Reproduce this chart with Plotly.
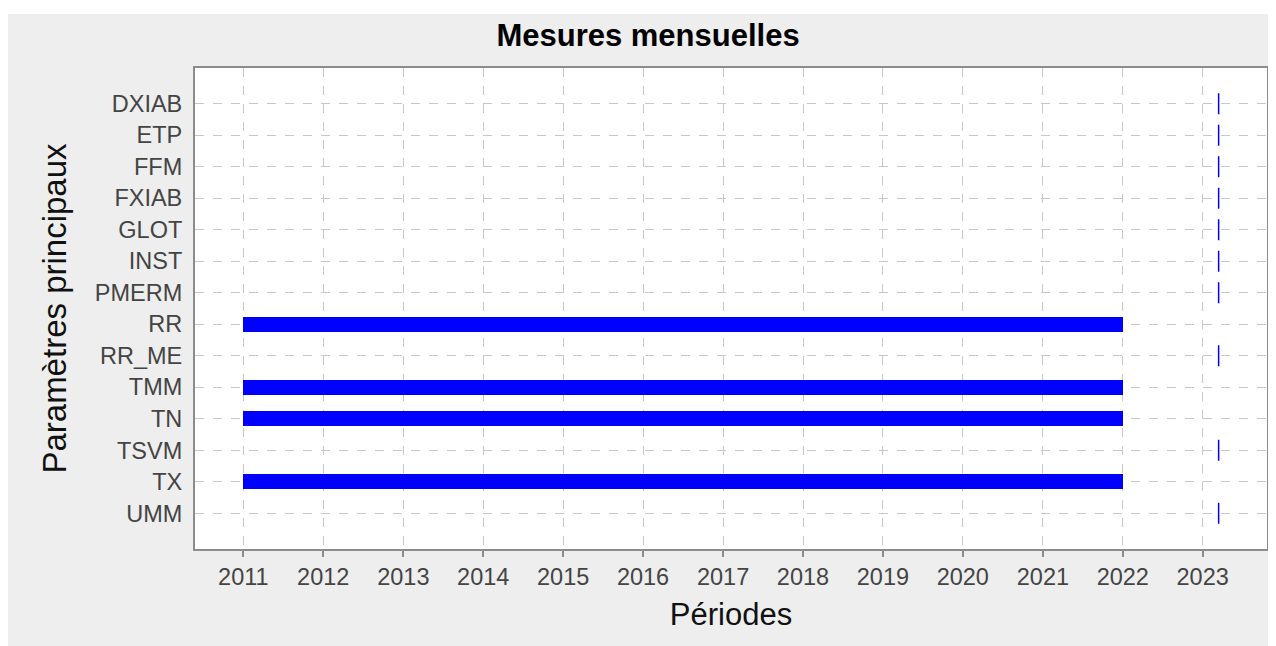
import plotly.graph_objects as go
import pandas as pd

categories = ["DXIAB", "ETP", "FFM", "FXIAB", "GLOT", "INST", "PMERM",
              "RR", "RR_ME", "TMM", "TN", "TSVM", "TX", "UMM"]

# Parameters with a continuous monthly measurement period
bar_params = ["RR", "TMM", "TN", "TX"]
bar_start = ["2011-01-01", "2011-01-01", "2011-01-01", "2011-01-01"]
bar_end = ["2022-01-01", "2022-01-01", "2022-01-01", "2022-01-01"]

# Parameters with only a single punctual measurement
point_params = ["DXIAB", "ETP", "FFM", "FXIAB", "GLOT", "INST", "PMERM",
                "RR_ME", "TSVM", "UMM"]
point_dates = ["2023-03-15"] * len(point_params)

year_ticks = list(range(2011, 2024))

durations = [(pd.Timestamp(e) - pd.Timestamp(s)).total_seconds() * 1000
             for s, e in zip(bar_start, bar_end)]

fig = go.Figure()
fig.add_trace(go.Bar(
    y=bar_params, x=durations, base=bar_start, orientation="h",
    marker=dict(color="#0000ff", line=dict(width=0)), width=0.48,
    showlegend=False, hoverinfo="skip",
))
fig.add_trace(go.Scatter(
    y=point_params, x=point_dates, mode="markers",
    marker=dict(symbol="line-ns", size=15, color="#0000ff",
                line=dict(color="#0000ff", width=1.5)),
    showlegend=False,
))

FONT = "Arial, Liberation Sans, sans-serif"
H = 646
T, B = 60, 105
PH = H - T - B
fig.update_layout(
    width=1276, height=H,
    margin=dict(l=187, r=17, t=T, b=B, pad=0),
    paper_bgcolor="#eeeeee", plot_bgcolor="#ffffff",
    font=dict(family=FONT, color="#444444"),
    title=dict(text="<b>Mesures mensuelles</b>", font=dict(size=31, color="#000000", family=FONT),
               x=0.5016, xref="container", xanchor="center",
               y=1 - 27 / H, yref="container", yanchor="middle"),
    bargap=0,
    xaxis=dict(
        type="date",
        range=["2010-05-25", "2023-10-22"],
        tickvals=[f"{y}-01-01" for y in year_ticks],
        ticktext=[str(y) for y in year_ticks],
        tickfont=dict(size=23.5, color="#444444"),
        ticks="outside", ticklen=6, tickwidth=2, tickcolor="#8c8c8c",
        showgrid=True, gridcolor="#c8c8c8", griddash="dash", gridwidth=1,
        showline=True, linecolor="#8c8c8c", linewidth=2, mirror=True,
        zeroline=False,
        title=dict(text="Périodes", font=dict(size=31, color="#111111"), standoff=14),
    ),
    yaxis=dict(
        type="category",
        categoryorder="array", categoryarray=categories,
        range=[13 + 1.134, -1.134],
        tickfont=dict(size=23.5, color="#444444"),
        ticks="", ticklabelstandoff=6,
        showgrid=True, gridcolor="#c8c8c8", griddash="dash", gridwidth=1,
        showline=True, linecolor="#8c8c8c", linewidth=2, mirror=True,
        zeroline=False,
        title=dict(text="Paramètres principaux", font=dict(size=33, color="#111111"), standoff=18),
    ),
    shapes=[
        # thin white strip at the very top of the figure
        dict(type="rect", xref="paper", yref="paper", layer="below",
             x0=-0.2, x1=1.05, y0=(H - B - 6) / PH, y1=(H - B + 2) / PH,
             fillcolor="#ffffff", line=dict(width=0)),
    ],
)

fig.write_html("out.html")
